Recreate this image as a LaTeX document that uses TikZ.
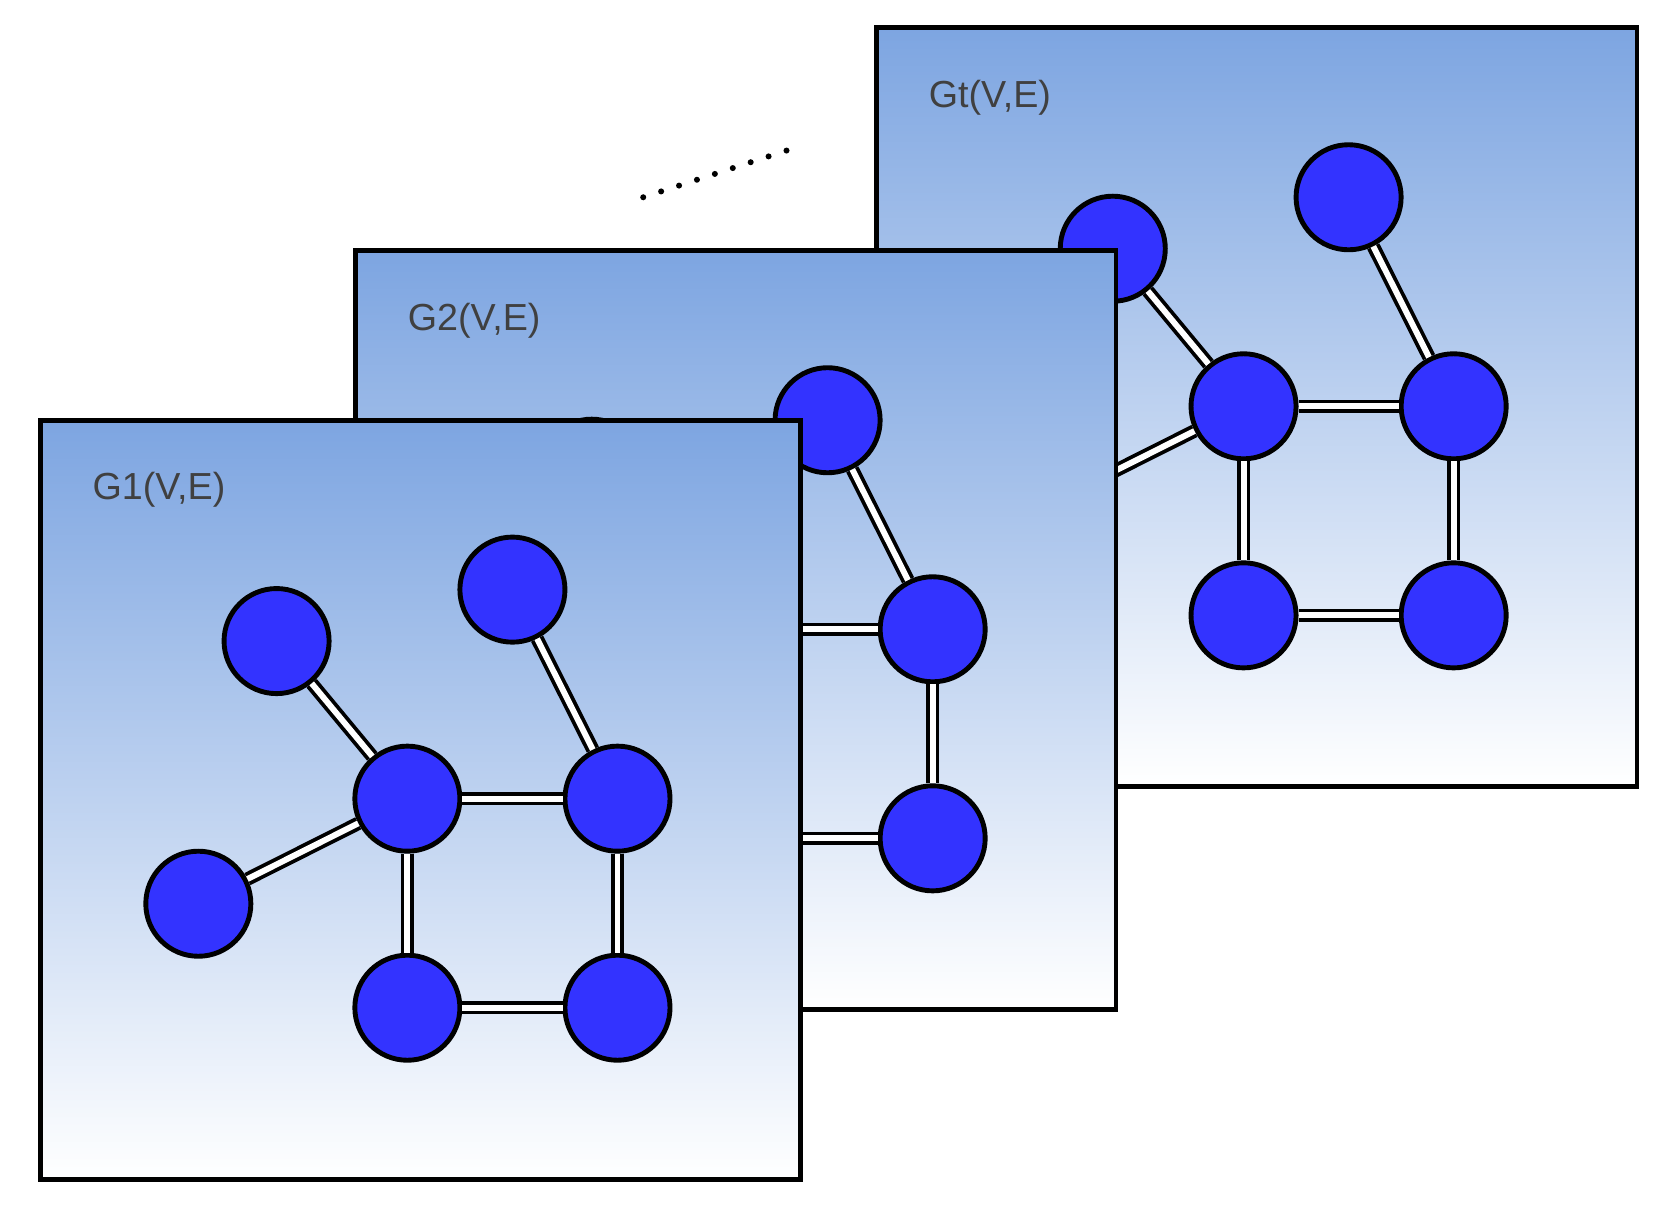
\documentclass[tikz,border=0pt]{standalone}
\usepackage{fontspec}
\setmainfont{Liberation Sans}
\usepackage{tikz}
\usetikzlibrary{positioning, arrows.meta}
\definecolor{layertop}{RGB}{125,165,225}
\definecolor{vertexblue}{RGB}{51,51,255}

\tikzset{
    vertex/.style={circle, fill=vertexblue, draw=black, line width=1.3pt,
        minimum size=0.98cm, inner sep=0pt},
    link/.style={double=white, draw=black, line width=1pt, double distance=0.055cm},
    layer/.style={draw=black, line width=1.3pt, top color=layertop, bottom color=white}
}

% one snapshot of the graph, shifted by (#2,#3)
\newcommand{\graphlayer}[4]{
    \begin{scope}[shift={(#2,#3)}]
        \draw[layer] (0.38,-3.92) rectangle (7.47,-11.00);
        \node[font=\fontsize{10}{12}\selectfont, text=black!75, anchor=west] (#1lbl) at (0.74,-4.57) {#4};
        % vertices
        \node[vertex] (#1a) at (2.58,-5.98) {};
        \node[vertex] (#1b) at (4.78,-5.50) {};
        \node[vertex] (#1c) at (3.80,-7.45) {};
        \node[vertex] (#1d) at (5.76,-7.45) {};
        \node[vertex] (#1e) at (1.85,-8.43) {};
        \node[vertex] (#1f) at (3.80,-9.40) {};
        \node[vertex] (#1g) at (5.76,-9.40) {};
        % edges
        \draw[link] (#1a) -- (#1c);
        \draw[link] (#1b) -- (#1d);
        \draw[link] (#1e) -- (#1c);
        \draw[link] (#1c) -- (#1d);
        \draw[link] (#1c) -- (#1f);
        \draw[link] (#1d) -- (#1g);
        \draw[link] (#1f) -- (#1g);
    \end{scope}
}

\begin{document}
\begin{tikzpicture}
    \useasboundingbox (0,0) rectangle (15.55,-11.28);

    % dots between the snapshots
    \coordinate (dotsL) at (6.00,-1.84);
    \coordinate (dotsR) at (7.35,-1.40);
    \draw[line width=1.6pt, dash pattern=on 0pt off 5pt, line cap=round] (dotsL) -- (dotsR);

    % back to front
    \graphlayer{t}{7.80}{3.66}{Gt(V,E)}
    \graphlayer{s}{2.94}{1.58}{G2(V,E)}
    \graphlayer{f}{0}{0}{G1(V,E)}
\end{tikzpicture}
\end{document}
